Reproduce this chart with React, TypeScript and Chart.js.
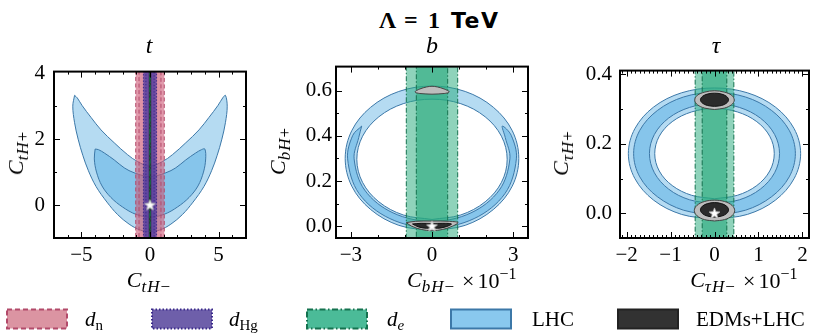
import React, { useEffect, useRef } from 'react';
import { Chart, registerables } from 'chart.js';

Chart.register(...registerables);

type Pt = [number, number];
type Range = [number, number];

// ======================= DATA =======================
// ---- panel t ----
const T_X_RANGE: Range = [-7, 7];
const T_Y_RANGE: Range = [-1.0, 4.05];
const T_X_TICKS = [-5, 0, 5];
const T_Y_TICKS = [0, 2, 4];
const T_LHC_2SIGMA: Pt[] = [
  [-5.5, 3.33], [-5.63, 3.0], [-5.5, 2.5], [-5.24, 2.0], [-4.9, 1.51], [-4.49, 1.04], [-3.93, 0.56],
  [-3.14, 0.09], [-2.36, -0.29], [-1.52, -0.58], [-0.7, -0.76], [0, -0.8], [0.7, -0.76], [1.52, -0.58],
  [2.36, -0.29], [3.14, 0.09], [3.93, 0.56], [4.49, 1.04], [4.9, 1.51], [5.24, 2.0], [5.5, 2.5],
  [5.63, 3.0], [5.5, 3.33], [5.3, 3.25], [4.95, 3.02], [4.3, 2.66], [3.57, 2.28], [2.61, 1.89],
  [1.64, 1.53], [0.91, 1.32], [0, 1.18], [-0.91, 1.32], [-1.64, 1.53], [-2.61, 1.89], [-3.57, 2.28],
  [-4.3, 2.66], [-4.95, 3.02], [-5.3, 3.25], [-5.5, 3.33],
];
const T_LHC_1SIGMA: Pt[] = [
  [-4.0, 1.7], [-4.06, 1.4], [-3.9, 1.0], [-3.5, 0.58], [-2.85, 0.23], [-2.0, -0.06], [-1.04, -0.28],
  [0, -0.37], [1.04, -0.28], [2.0, -0.06], [2.85, 0.23], [3.5, 0.58], [3.9, 1.0], [4.06, 1.4],
  [4.0, 1.7], [3.75, 1.68], [3.33, 1.58], [2.61, 1.37], [1.88, 1.13], [1.16, 0.98], [0, 0.86],
  [-1.16, 0.98], [-1.88, 1.13], [-2.61, 1.37], [-3.33, 1.58], [-3.75, 1.68], [-4.0, 1.7],
];
const T_DN_2SIGMA: Range = [-1.04, 1.04];
const T_DN_1SIGMA: Range = [-0.8, 0.8];
const T_DHG_2SIGMA: Range = [-0.48, 0.48];
const T_DHG_1SIGMA: Range = [-0.3, 0.3];
const T_EDM_LHC: Range = [-0.09, 0.09];
const T_DE: Range = [-0.025, 0.025];
const T_BEST: Pt[] = [[0, 0]];

// ---- panel b (x in units of 1e-1) ----
const B_X_RANGE: Range = [-3.55, 3.55];
const B_Y_RANGE: Range = [-0.052, 0.706];
const B_X_TICKS = [-3, 0, 3];
const B_Y_TICKS = [0, 0.2, 0.4, 0.6];
const B_LHC_2SIGMA_OUTER: Pt[] = [
  [0, -0.02], [1.229, 0.004], [2.27, 0.074], [2.966, 0.177], [3.21, 0.3], [2.966, 0.423], [2.27, 0.526],
  [1.229, 0.596], [0, 0.62], [-1.229, 0.596], [-2.27, 0.526], [-2.966, 0.423], [-3.21, 0.3],
  [-2.966, 0.177], [-2.27, 0.074], [-1.229, 0.004], [0, -0.02],
];
const B_LHC_2SIGMA_INNER: Pt[] = [
  [0, 0.03], [1.065, 0.05], [1.966, 0.108], [2.568, 0.194], [2.78, 0.296], [2.568, 0.398], [1.966, 0.484],
  [1.065, 0.542], [0, 0.562], [-1.065, 0.542], [-1.966, 0.484], [-2.568, 0.398], [-2.78, 0.296],
  [-2.568, 0.194], [-1.966, 0.108], [-1.065, 0.05], [0, 0.03],
];
const B_LHC_1SIGMA: Pt[] = [
  [-2.6, 0.443], [-2.93, 0.402], [-3.12, 0.298], [-2.7, 0.145], [-1.56, 0.034], [0, -0.007], [1.56, 0.034],
  [2.7, 0.145], [3.12, 0.298], [2.93, 0.402], [2.6, 0.443], [2.71, 0.392], [2.88, 0.298], [2.49, 0.16],
  [1.44, 0.059], [0, 0.022], [-1.44, 0.059], [-2.49, 0.16], [-2.88, 0.298], [-2.71, 0.392], [-2.6, 0.443],
];
const B_DE_2SIGMA: Range = [-0.95, 0.95];
const B_DE_1SIGMA: Range = [-0.58, 0.58];
const B_EDM_LHC_2S_TOP: Pt[] = [
  [0, 0.584], [0.45, 0.587], [0.64, 0.594], [0.45, 0.607], [0.2, 0.616], [0, 0.619], [-0.2, 0.616],
  [-0.45, 0.607], [-0.63, 0.594], [-0.45, 0.587], [0, 0.584],
];
const B_EDM_LHC_2S_BOTTOM: Pt[] = [
  [-0.95, 0.016], [-0.6, 0.022], [0, 0.023], [0.6, 0.022], [0.96, 0.016], [0.75, 0.0], [0.4, -0.014],
  [0, -0.02], [-0.4, -0.014], [-0.75, 0.0], [-0.95, 0.016],
];
const B_EDM_LHC_1S_BOTTOM: Pt[] = [
  [-0.72, 0.01], [-0.4, 0.013], [0, 0.012], [0.4, 0.013], [0.72, 0.01], [0.5, -0.003], [0.2, -0.009],
  [0, -0.006], [-0.2, -0.009], [-0.5, -0.003], [-0.72, 0.01],
];
const B_BEST: Pt[] = [[0, 0]];

// ---- panel tau (x in units of 1e-1) ----
const TAU_X_RANGE: Range = [-2.15, 2.15];
const TAU_Y_RANGE: Range = [-0.071, 0.411];
const TAU_X_TICKS = [-2, -1, 0, 1, 2];
const TAU_Y_TICKS = [0, 0.2, 0.4];
const TAU_LHC_2SIGMA_OUTER: Pt[] = [
  [0, -0.017], [0.751, -0.003], [1.386, 0.038], [1.811, 0.1], [1.96, 0.172], [1.811, 0.244], [1.386, 0.306],
  [0.751, 0.347], [0, 0.361], [-0.751, 0.347], [-1.386, 0.306], [-1.811, 0.244], [-1.96, 0.172],
  [-1.811, 0.1], [-1.386, 0.038], [-0.751, -0.003], [0, -0.017],
];
const TAU_LHC_1SIGMA_OUTER: Pt[] = [
  [0, -0.004], [0.705, 0.009], [1.301, 0.048], [1.7, 0.105], [1.84, 0.172], [1.7, 0.239], [1.301, 0.296],
  [0.705, 0.335], [0, 0.348], [-0.705, 0.335], [-1.301, 0.296], [-1.7, 0.239], [-1.84, 0.172],
  [-1.7, 0.105], [-1.301, 0.048], [-0.705, 0.009], [0, -0.004],
];
const TAU_LHC_1SIGMA_INNER: Pt[] = [
  [0, 0.028], [0.567, 0.039], [1.046, 0.07], [1.368, 0.117], [1.48, 0.172], [1.368, 0.227], [1.046, 0.274],
  [0.567, 0.305], [0, 0.316], [-0.567, 0.305], [-1.046, 0.274], [-1.368, 0.227], [-1.48, 0.172],
  [-1.368, 0.117], [-1.046, 0.07], [-0.567, 0.039], [0, 0.028],
];
const TAU_LHC_2SIGMA_INNER: Pt[] = [
  [0, 0.042], [0.521, 0.052], [0.962, 0.08], [1.257, 0.122], [1.36, 0.172], [1.257, 0.222], [0.962, 0.264],
  [0.521, 0.292], [0, 0.302], [-0.521, 0.292], [-0.962, 0.264], [-1.257, 0.222], [-1.36, 0.172],
  [-1.257, 0.122], [-0.962, 0.08], [-0.521, 0.052], [0, 0.042],
];
const TAU_DE_2SIGMA: Range = [-0.44, 0.44];
const TAU_DE_1SIGMA: Range = [-0.28, 0.28];
const TAU_EDM_LHC_2S_TOP: Pt[] = [
  [0, 0.299], [0.225, 0.303], [0.39, 0.313], [0.45, 0.326], [0.39, 0.34], [0.225, 0.349], [0, 0.353],
  [-0.225, 0.349], [-0.39, 0.34], [-0.45, 0.326], [-0.39, 0.313], [-0.225, 0.303], [0, 0.299],
];
const TAU_EDM_LHC_1S_TOP: Pt[] = [
  [0, 0.308], [0.16, 0.3105], [0.277, 0.3175], [0.32, 0.327], [0.277, 0.3365], [0.16, 0.3435], [0, 0.346],
  [-0.16, 0.3435], [-0.277, 0.3365], [-0.32, 0.327], [-0.277, 0.3175], [-0.16, 0.3105], [0, 0.308],
];
const TAU_EDM_LHC_2S_BOTTOM: Pt[] = [
  [0, -0.022], [0.23, -0.018], [0.398, -0.007], [0.46, 0.008], [0.398, 0.023], [0.23, 0.034], [0, 0.038],
  [-0.23, 0.034], [-0.398, 0.023], [-0.46, 0.008], [-0.398, -0.007], [-0.23, -0.018], [0, -0.022],
];
const TAU_EDM_LHC_1S_BOTTOM: Pt[] = [
  [0, -0.011], [0.16, -0.008], [0.277, -0.0005], [0.32, 0.01], [0.277, 0.0205], [0.16, 0.028], [0, 0.031],
  [-0.16, 0.028], [-0.277, 0.0205], [-0.32, 0.01], [-0.277, -0.0005], [-0.16, -0.008], [0, -0.011],
];
const TAU_BEST: Pt[] = [[0, 0]];

// ---- text ----
const TITLE_PARTS = ['Λ', '=', '1', 'TeV'];
const PANEL_TITLES = ['t', 'b', 'τ'];
const AXIS_SUBS = ['t', 'b', 'τ'];
const LEGEND_LABELS = ['d', 'd', 'd', 'LHC', 'EDMs+LHC'];
const LEGEND_SUBS = ['n', 'Hg', 'e', '', ''];

// ======================= STYLE =======================
const SERIF = '"Liberation Serif", "DejaVu Serif", serif';
const LHC_2S = '#b5dbf2';
const LHC_1S = '#86c5eb';
const LHC_EDGE = '#3c78a8';
const DN_EDGE = '#b24a6a';
const DHG_EDGE = '#3a2a8a';
const DE_EDGE = '#15724f';
const GREY = '#bdbdbd';
const GREY_EDGE = '#444444';
const BLACK = '#2b2b2b';

const CANVAS_TOP = 50;
const CANVAS_H = 222;
const PAD_TOP = 12;
const X_AXIS_H = 34;

interface Layer { pts: Pt[]; fill: string | null; edge: string | null; width?: number; dash?: number[]; tension?: number; star?: boolean; }
interface PanelCfg {
  left: number; width: number; yAxisW: number; padRight: number; yPad: number;
  xRange: Range; yRange: Range; xTicks: number[]; yTicks: number[];
  xMinor: number; yMinor: number; xDigits: number; yDigits: number; layers: Layer[];
}

function band(r: Range, yr: Range): Pt[] {
  const span = yr[1] - yr[0];
  const lo = yr[0] - span, hi = yr[1] + span;
  return [[r[0], lo], [r[1], lo], [r[1], hi], [r[0], hi], [r[0], lo]];
}

const SMOOTH = 0.35;
const DASH_N = [4, 2.5];
const DASH_HG = [1.4, 1.8];
const DASH_E = [5, 2, 1.5, 2];

const PANELS: PanelCfg[] = [
  {
    left: 0, width: 252, yAxisW: 54, padRight: 6, yPad: 9,
    xRange: T_X_RANGE, yRange: T_Y_RANGE, xTicks: T_X_TICKS, yTicks: T_Y_TICKS,
    xMinor: 1, yMinor: 1, xDigits: 0, yDigits: 0,
    layers: [
      { pts: T_LHC_2SIGMA, fill: LHC_2S, edge: LHC_EDGE, tension: SMOOTH },
      { pts: T_LHC_1SIGMA, fill: LHC_1S, edge: LHC_EDGE, tension: SMOOTH },
      { pts: band(T_DN_2SIGMA, T_Y_RANGE), fill: 'rgba(205,85,115,0.6)', edge: DN_EDGE, dash: DASH_N },
      { pts: band(T_DN_1SIGMA, T_Y_RANGE), fill: 'rgba(205,85,115,0.1)', edge: DN_EDGE, dash: DASH_N },
      { pts: band(T_DHG_2SIGMA, T_Y_RANGE), fill: 'rgba(75,55,160,0.75)', edge: DHG_EDGE, dash: DASH_HG },
      { pts: band(T_DHG_1SIGMA, T_Y_RANGE), fill: 'rgba(75,55,160,0.15)', edge: DHG_EDGE, dash: DASH_HG },
      { pts: band(T_EDM_LHC, T_Y_RANGE), fill: BLACK, edge: null },
      { pts: band(T_DE, T_Y_RANGE), fill: 'rgba(40,170,125,0.3)', edge: DE_EDGE, dash: DASH_E, width: 0.8 },
      { pts: T_BEST, fill: null, edge: null, star: true },
    ],
  },
  {
    left: 280, width: 256, yAxisW: 56, padRight: 8, yPad: 4,
    xRange: B_X_RANGE, yRange: B_Y_RANGE, xTicks: B_X_TICKS, yTicks: B_Y_TICKS,
    xMinor: 1, yMinor: 0.1, xDigits: 0, yDigits: 1,
    layers: [
      { pts: B_LHC_2SIGMA_OUTER, fill: LHC_2S, edge: LHC_EDGE, tension: SMOOTH },
      { pts: B_LHC_1SIGMA, fill: LHC_1S, edge: LHC_EDGE, tension: SMOOTH },
      { pts: B_LHC_2SIGMA_INNER, fill: '#ffffff', edge: LHC_EDGE, tension: SMOOTH },
      { pts: band(B_DE_2SIGMA, B_Y_RANGE), fill: 'rgba(40,170,125,0.52)', edge: DE_EDGE, dash: DASH_E },
      { pts: band(B_DE_1SIGMA, B_Y_RANGE), fill: 'rgba(40,170,125,0.6)', edge: DE_EDGE, dash: DASH_E },
      { pts: B_EDM_LHC_2S_TOP, fill: GREY, edge: GREY_EDGE, tension: SMOOTH },
      { pts: B_EDM_LHC_2S_BOTTOM, fill: GREY, edge: GREY_EDGE, tension: SMOOTH },
      { pts: B_EDM_LHC_1S_BOTTOM, fill: BLACK, edge: '#111', tension: SMOOTH },
      { pts: B_BEST, fill: null, edge: null, star: true },
    ],
  },
  {
    left: 560, width: 255, yAxisW: 60, padRight: 4, yPad: 8,
    xRange: TAU_X_RANGE, yRange: TAU_Y_RANGE, xTicks: TAU_X_TICKS, yTicks: TAU_Y_TICKS,
    xMinor: 0.1, yMinor: 0.1, xDigits: 0, yDigits: 1,
    layers: [
      { pts: TAU_LHC_2SIGMA_OUTER, fill: LHC_2S, edge: LHC_EDGE, tension: SMOOTH },
      { pts: TAU_LHC_1SIGMA_OUTER, fill: LHC_1S, edge: LHC_EDGE, tension: SMOOTH },
      { pts: TAU_LHC_1SIGMA_INNER, fill: LHC_2S, edge: LHC_EDGE, tension: SMOOTH },
      { pts: TAU_LHC_2SIGMA_INNER, fill: '#ffffff', edge: LHC_EDGE, tension: SMOOTH },
      { pts: band(TAU_DE_2SIGMA, TAU_Y_RANGE), fill: 'rgba(40,170,125,0.52)', edge: DE_EDGE, dash: DASH_E },
      { pts: band(TAU_DE_1SIGMA, TAU_Y_RANGE), fill: 'rgba(40,170,125,0.6)', edge: DE_EDGE, dash: DASH_E },
      { pts: TAU_EDM_LHC_2S_TOP, fill: GREY, edge: GREY_EDGE, tension: SMOOTH },
      { pts: TAU_EDM_LHC_1S_TOP, fill: BLACK, edge: '#111', tension: SMOOTH },
      { pts: TAU_EDM_LHC_2S_BOTTOM, fill: GREY, edge: GREY_EDGE, tension: SMOOTH },
      { pts: TAU_EDM_LHC_1S_BOTTOM, fill: BLACK, edge: '#111', tension: SMOOTH },
      { pts: TAU_BEST, fill: null, edge: null, star: true },
    ],
  },
];

// ======================= RENDERING =======================
let STAR: HTMLCanvasElement | null = null;
function starImage(): HTMLCanvasElement {
  if (STAR) return STAR;
  const c = document.createElement('canvas');
  c.width = 13; c.height = 13;
  const g = c.getContext('2d')!;
  g.beginPath();
  for (let i = 0; i < 10; i++) {
    const r = i % 2 === 0 ? 5.8 : 2.4;
    const ang = -Math.PI / 2 + (i * Math.PI) / 5;
    const px = 6.5 + r * Math.cos(ang), py = 6.8 + r * Math.sin(ang);
    if (i === 0) g.moveTo(px, py); else g.lineTo(px, py);
  }
  g.closePath();
  g.fillStyle = '#ffffff'; g.fill();
  g.strokeStyle = '#b8b8b8'; g.lineWidth = 0.8; g.stroke();
  STAR = c;
  return c;
}

function fmt(d: number) {
  return (v: number) => (v < -1e-9 ? '−' : '') + Math.abs(v).toFixed(d);
}

function makeFrame(cfg: PanelCfg) {
  return {
    id: 'frame',
    afterDraw(chart: any) {
      const { ctx, chartArea: a } = chart;
      const xs = chart.scales.x, ys = chart.scales.y;
      const minors = (lo: number, hi: number, step: number, majors: number[]) => {
        const out: number[] = [];
        for (let k = Math.ceil(lo / step - 1e-6); k * step <= hi + 1e-9; k++) {
          const v = k * step;
          if (!majors.some((m) => Math.abs(m - v) < step / 100)) out.push(v);
        }
        return out;
      };
      ctx.save();
      ctx.strokeStyle = '#000';
      ctx.lineWidth = 1;
      ctx.beginPath();
      const xt = (vals: number[], len: number) => vals.forEach((v) => {
        const p = Math.round(xs.getPixelForValue(v)) + 0.5;
        if (p < a.left + 2 || p > a.right - 2) return;
        ctx.moveTo(p, a.bottom); ctx.lineTo(p, a.bottom - len);
        ctx.moveTo(p, a.top); ctx.lineTo(p, a.top + len);
      });
      const yt = (vals: number[], len: number) => vals.forEach((v) => {
        const p = Math.round(ys.getPixelForValue(v)) + 0.5;
        if (p < a.top + 2 || p > a.bottom - 2) return;
        ctx.moveTo(a.left, p); ctx.lineTo(a.left + len, p);
        ctx.moveTo(a.right, p); ctx.lineTo(a.right - len, p);
      });
      xt(cfg.xTicks, 6);
      xt(minors(xs.min, xs.max, cfg.xMinor, cfg.xTicks), 3);
      yt(cfg.yTicks, 6);
      yt(minors(ys.min, ys.max, cfg.yMinor, cfg.yTicks), 3);
      ctx.stroke();
      ctx.lineWidth = 2;
      ctx.strokeRect(a.left, a.top, a.right - a.left, a.bottom - a.top);
      ctx.restore();
    },
  };
}

function Panel({ cfg }: { cfg: PanelCfg }) {
  const ref = useRef<HTMLCanvasElement>(null);
  useEffect(() => {
    const canvas = ref.current!;
    const n = cfg.layers.length;
    const datasets = cfg.layers.map((L, i) => ({
      data: L.pts.map(([x, y]) => ({ x, y })),
      order: n - i,
      showLine: !L.star,
      fill: L.fill ? 'shape' : false,
      backgroundColor: L.fill || 'rgba(0,0,0,0)',
      borderColor: L.edge || 'rgba(0,0,0,0)',
      borderWidth: L.edge ? (L.width ?? 1) : 0,
      borderDash: L.dash || [],
      tension: L.tension ?? 0,
      pointRadius: L.star ? 6 : 0,
      pointHoverRadius: 0,
      pointStyle: L.star ? starImage() : 'circle',
    }));
    const tickFont = { family: SERIF, size: 21 };
    const chart = new Chart(canvas, {
      type: 'line',
      data: { datasets } as any,
      options: {
        animation: false,
        responsive: false,
        maintainAspectRatio: false,
        devicePixelRatio: 1,
        events: [],
        layout: { padding: { top: PAD_TOP, right: cfg.padRight, left: 0, bottom: 0 } },
        plugins: { legend: { display: false }, tooltip: { enabled: false }, title: { display: false } },
        scales: {
          x: {
            type: 'linear', min: cfg.xRange[0], max: cfg.xRange[1],
            grid: { display: false, drawTicks: false }, border: { display: false },
            ticks: { font: tickFont, color: '#000', padding: 5, autoSkip: false, maxRotation: 0, minRotation: 0, callback: fmt(cfg.xDigits) as any },
            afterBuildTicks: (s: any) => { s.ticks = cfg.xTicks.map((v) => ({ value: v })); },
            afterFit: (s: any) => { s.height = X_AXIS_H; },
          },
          y: {
            type: 'linear', min: cfg.yRange[0], max: cfg.yRange[1],
            grid: { display: false, drawTicks: false }, border: { display: false },
            ticks: { font: tickFont, color: '#000', padding: cfg.yPad, autoSkip: false, callback: fmt(cfg.yDigits) as any },
            afterBuildTicks: (s: any) => { s.ticks = cfg.yTicks.map((v) => ({ value: v })); },
            afterFit: (s: any) => { s.width = cfg.yAxisW; },
          },
        },
      } as any,
      plugins: [makeFrame(cfg)],
    });
    return () => chart.destroy();
  }, [cfg]);
  return (
    <canvas ref={ref} width={cfg.width} height={CANVAS_H}
      style={{ position: 'absolute', left: cfg.left, top: CANVAS_TOP, width: cfg.width, height: CANVAS_H }} />
  );
}

const BL = 0.8375;
function Txt({ x, base, fs, center, children, style }: any) {
  return (
    <div style={{
      position: 'absolute', left: x, top: base - BL * fs, fontSize: fs, lineHeight: `${fs}px`,
      fontFamily: SERIF, whiteSpace: 'nowrap', color: '#000',
      transform: center ? 'translateX(-50%)' : 'none', ...style,
    }}>{children}</div>
  );
}

function CLabel({ sub, sign }: { sub: string; sign: string }) {
  return (
    <span>
      <i>C</i>
      <span style={{ fontSize: 17, position: 'relative', top: 5, letterSpacing: 1 }}><i>{sub}H</i>{sign}</span>
    </span>
  );
}

function YLabel({ cx, cy, sub }: { cx: number; cy: number; sub: string }) {
  return (
    <div style={{
      position: 'absolute', left: cx, top: cy, transform: 'translate(-50%,-50%) rotate(-90deg)',
      fontSize: 22, lineHeight: '22px', fontFamily: SERIF, whiteSpace: 'nowrap', color: '#000',
    }}>
      <CLabel sub={sub} sign="+" />
    </div>
  );
}

function Offset({ x }: { x: number }) {
  return (
    <Txt x={x} base={288} fs={22}>
      <span style={{ marginRight: 3 }}>×</span>10<span style={{ fontSize: 16, position: 'relative', top: -9 }}>−1</span>
    </Txt>
  );
}

const LEG_X = [7, 152, 307, 451, 618];
const LEG_TEXT_X = [85, 229, 387, 532, 696];
const LEG_FILL = ['rgb(219,148,162)', 'rgb(110,95,170)', 'rgb(75,187,152)', 'rgb(137,200,238)', 'rgb(50,50,50)'];
const LEG_EDGE = [DN_EDGE, DHG_EDGE, DE_EDGE, LHC_EDGE, '#222'];
const LEG_DASH = ['5 3', '1.5 2', '6 2.5 1.5 2.5', '', ''];

export default function App() {
  return (
    <div style={{ position: 'absolute', left: 0, top: 0, width: 815, height: 333, background: '#fff', overflow: 'hidden' }}>
      {PANELS.map((p, i) => <Panel key={i} cfg={p} />)}

      <Txt x={379} base={28} fs={24} style={{ fontWeight: 'bold' }}>{TITLE_PARTS[0]}</Txt>
      <Txt x={404} base={28} fs={24} style={{ fontWeight: 'bold' }}>{TITLE_PARTS[1]}</Txt>
      <Txt x={428} base={28} fs={24} style={{ fontWeight: 'bold' }}>{TITLE_PARTS[2]}</Txt>
      <Txt x={451} base={28} fs={22} style={{ fontWeight: 'bold', fontFamily: '"DejaVu Sans", sans-serif', letterSpacing: 1.5 }}>{TITLE_PARTS[3]}</Txt>

      <Txt x={149} base={53} fs={24} center><i>{PANEL_TITLES[0]}</i></Txt>
      <Txt x={432} base={53} fs={24} center><i>{PANEL_TITLES[1]}</i></Txt>
      <Txt x={716} base={53} fs={24} center><i>{PANEL_TITLES[2]}</i></Txt>

      <Txt x={149} base={287} fs={22} center><CLabel sub={AXIS_SUBS[0]} sign="−" /></Txt>
      <Txt x={431} base={287} fs={22} center><CLabel sub={AXIS_SUBS[1]} sign="−" /></Txt>
      <Txt x={713} base={287} fs={22} center><CLabel sub={AXIS_SUBS[2]} sign="−" /></Txt>
      <Offset x={462} />
      <Offset x={743} />

      <YLabel cx={17} cy={153} sub={AXIS_SUBS[0]} />
      <YLabel cx={279} cy={151} sub={AXIS_SUBS[1]} />
      <YLabel cx={562} cy={153} sub={AXIS_SUBS[2]} />

      <svg width={815} height={40} style={{ position: 'absolute', left: 0, top: 300 }}>
        {LEG_X.map((x, i) => (
          <rect key={i} x={x} y={9.5} width={60} height={19} fill={LEG_FILL[i]} stroke={LEG_EDGE[i]}
            strokeWidth={2} strokeDasharray={LEG_DASH[i] || undefined} />
        ))}
      </svg>
      {LEGEND_LABELS.map((t, i) => (
        <Txt key={i} x={LEG_TEXT_X[i]} base={327} fs={21}>
          {LEGEND_SUBS[i] ? (
            <span>
              <i>{t}</i>
              <span style={{ fontSize: 15, position: 'relative', top: 4 }}>
                {LEGEND_SUBS[i] === 'e' ? <i>e</i> : LEGEND_SUBS[i]}
              </span>
            </span>
          ) : t}
        </Txt>
      ))}
    </div>
  );
}
